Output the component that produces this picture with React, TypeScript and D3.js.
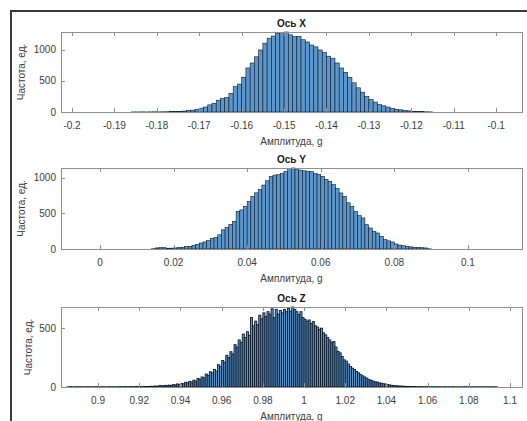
import React, { Component } from "react";
import * as d3 from "d3";

// histogram bin width, same for all three axes
const BIN_WIDTH = 0.001;

// Ось X
const startX = -0.186;
const countsX = [
  1, 1, 2, 1, 2, 3, 2, 3, 4, 5, 7, 10, 15, 22, 30, 45, 62, 80, 115, 140, 190,
  215, 235, 300, 410, 450, 560, 710, 790, 890, 1000, 1110, 1190, 1225, 1265,
  1280, 1290, 1245, 1215, 1220, 1165, 1130, 1080, 1050, 1000, 960, 900, 860,
  790, 710, 640, 560, 470, 390, 320, 250, 200, 160, 120, 100, 80, 60, 45, 35,
  25, 18, 12, 8, 5, 3, 2,
];
const ticksX = [-0.2, -0.19, -0.18, -0.17, -0.16, -0.15, -0.14, -0.13, -0.12, -0.11, -0.1];
const domainX = [-0.2026, -0.0939];

// Ось Y
const startY = 0.014;
const countsY = [
  3, 15, 20, 18, 10, 12, 15, 22, 25, 35, 38, 50, 62, 85, 100, 118, 150, 160,
  200, 270, 300, 345, 390, 530, 550, 600, 670, 740, 790, 835, 900, 960, 1020,
  1040, 1045, 1060, 1090, 1130, 1140, 1117, 1110, 1100, 1095, 1090, 1060, 1050,
  1023, 980, 952, 906, 850, 789, 741, 650, 600, 530, 470, 437, 342, 296, 250,
  225, 178, 131, 115, 99, 70, 55, 46, 35, 30, 22, 20, 18, 15, 3,
];
const ticksY = [0, 0.02, 0.04, 0.06, 0.08, 0.1];
const domainY = [-0.0106, 0.1147];

// Ось Z
const startZ = 0.885;
const countsZ = [
  // left tail
  1, 0, 2, 1, 1, 2, 0, 1, 2, 1, 1, 0, 1, 2, 1, 0, 1, 1, 2, 1, 1, 2, 1, 1, 2,
  2, 1, 2, 1, 3, 2, 2, 3, 2, 3, 3, 2, 4, 3, 4, 3, 5, 4, 4, 6,
  // 0.930 ...
  5, 8, 6, 10, 12, 9, 14, 11, 16, 13, 20, 18, 26, 22, 30, 27, 40, 35, 48, 42,
  58, 50, 72, 65, 85, 78, 110, 98, 130, 120, 150, 135, 190, 175, 225, 210, 270,
  250, 300, 280, 360, 340, 400, 380, 450, 420, 470, 440, 590, 520, 560, 530,
  610, 580, 630, 600, 640, 620, 665, 590, 660, 620, 650, 630, 660, 640, 670,
  645, 680, 660, 640, 615, 640, 590, 575, 560, 570, 540, 556, 520, 510, 490,
  500, 460, 443, 420, 400, 380, 386, 340, 302, 290, 260, 231, 220, 195, 175,
  160, 150, 132, 120, 105, 95, 85, 75, 62, 58, 50, 44, 42, 35, 32, 28, 25, 20,
  18, 14, 12, 11, 9, 8, 7, 6, 5, 5, 4,
  // right tail
  3, 4, 3, 2, 3, 2, 2, 3, 2, 1, 2, 2, 1, 2, 1, 1, 2, 1, 0, 1, 1, 2, 1, 1, 0,
  1, 1, 1, 2, 1, 0, 1, 1, 1, 0, 1, 1, 2, 1, 1, 0, 1, 1, 0, 1, 1, 0, 1, 1,
];
const ticksZ = [0.9, 0.92, 0.94, 0.96, 0.98, 1, 1.02, 1.04, 1.06, 1.08, 1.1];
const domainZ = [0.882, 1.1058];

const titles = ["Ось X", "Ось Y", "Ось Z"];
const countTicks = [[0, 500, 1000], [0, 500, 1000], [0, 500]];
const xLabel = "Амплитуда, g";
const yLabel = "Частота, ед.";

class App extends Component {
  constructor(props) {
    super(props);
    this.chart = React.createRef();
  }

  componentDidMount() {
    this.draw();
  }

  draw() {
    const width = 527,
      height = 421;
    const left = 61,
      right = 522;
    // top / bottom pixel rows of the three axes
    const panels = [
      { top: 32, bottom: 112, start: startX, counts: countsX, ticks: ticksX, domain: domainX, ylabX: 21, edge: 0.6 },
      { top: 168, bottom: 249, start: startY, counts: countsY, ticks: ticksY, domain: domainY, ylabX: 21, edge: 0.6 },
      { top: 307, bottom: 387, start: startZ, counts: countsZ, ticks: ticksZ, domain: domainZ, ylabX: 28, edge: 0.9 },
    ];
    const axisColor = "#8f8f8f",
      textColor = "#3d3d3d",
      font = "Liberation Sans, Arial, sans-serif";

    const svg = d3
      .select(this.chart.current)
      .append("svg")
      .attr("width", width)
      .attr("height", height)
      .style("display", "block")
      .style("background", "#fff");

    panels.forEach((p, k) => {
      const x = d3.scaleLinear().domain(p.domain).range([left, right]);
      const y = d3
        .scaleLinear()
        .domain([0, d3.max(p.counts)])
        .range([p.bottom, p.top]);

      const g = svg.append("g");

      // bars
      g.selectAll("rect")
        .data(p.counts)
        .enter()
        .filter(d => d > 0)
        .append("rect")
        .attr("x", (d, i) => x(p.start + i * BIN_WIDTH))
        .attr("width", (d, i) => x(p.start + (i + 1) * BIN_WIDTH) - x(p.start + i * BIN_WIDTH))
        .attr("y", d => y(d))
        .attr("height", d => p.bottom - y(d))
        .attr("fill", "#5b96cc")
        .attr("stroke", "#0d1a2a")
        .attr("stroke-width", p.edge);

      // box
      g.append("rect")
        .attr("x", left + 0.5)
        .attr("y", p.top + 0.5)
        .attr("width", right - left)
        .attr("height", p.bottom - p.top)
        .attr("fill", "none")
        .attr("stroke", axisColor)
        .attr("stroke-width", 1);

      // x ticks, inward at bottom and top
      p.ticks.forEach(t => {
        const tx = Math.round(x(t)) + 0.5;
        g.append("line")
          .attr("x1", tx).attr("x2", tx)
          .attr("y1", p.bottom).attr("y2", p.bottom - 4)
          .attr("stroke", axisColor);
        g.append("line")
          .attr("x1", tx).attr("x2", tx)
          .attr("y1", p.top).attr("y2", p.top + 4)
          .attr("stroke", axisColor);
        g.append("text")
          .attr("x", x(t))
          .attr("y", p.bottom + 17)
          .attr("text-anchor", "middle")
          .attr("font-family", font)
          .attr("font-size", 10)
          .attr("fill", textColor)
          .text(`${+t.toFixed(3)}`);
      });

      // y ticks
      countTicks[k].forEach(t => {
        const ty = Math.round(y(t)) + 0.5;
        g.append("line")
          .attr("x1", left).attr("x2", left + 4)
          .attr("y1", ty).attr("y2", ty)
          .attr("stroke", axisColor);
        g.append("text")
          .attr("x", left - 5)
          .attr("y", y(t) + 3.5)
          .attr("text-anchor", "end")
          .attr("font-family", font)
          .attr("font-size", 10)
          .attr("fill", textColor)
          .text(t);
      });

      // title
      g.append("text")
        .attr("x", (left + right) / 2)
        .attr("y", p.top - 5)
        .attr("text-anchor", "middle")
        .attr("font-family", font)
        .attr("font-size", 10)
        .attr("font-weight", "bold")
        .attr("fill", "#1a1a1a")
        .text(titles[k]);

      // x label
      g.append("text")
        .attr("x", (left + right) / 2)
        .attr("y", p.bottom + 33)
        .attr("text-anchor", "middle")
        .attr("font-family", font)
        .attr("font-size", 10)
        .attr("fill", textColor)
        .text(xLabel);

      // y label
      g.append("text")
        .attr("transform", `translate(${p.ylabX + 3.5},${(p.top + p.bottom) / 2}) rotate(-90)`)
        .attr("text-anchor", "middle")
        .attr("font-family", font)
        .attr("font-size", 10)
        .attr("fill", textColor)
        .text(yLabel);
    });

    // outer frame of the figure (cut at right and bottom)
    svg.append("path")
      .attr("d", `M11,${height} V11 H${width}`)
      .attr("fill", "none")
      .attr("stroke", "#3a3a3a")
      .attr("stroke-width", 2);
  }

  render() {
    return (
      <div
        ref={this.chart}
        style={{ position: "absolute", left: 0, top: 0, width: 527, height: 421 }}
      ></div>
    );
  }
}

export default App;
